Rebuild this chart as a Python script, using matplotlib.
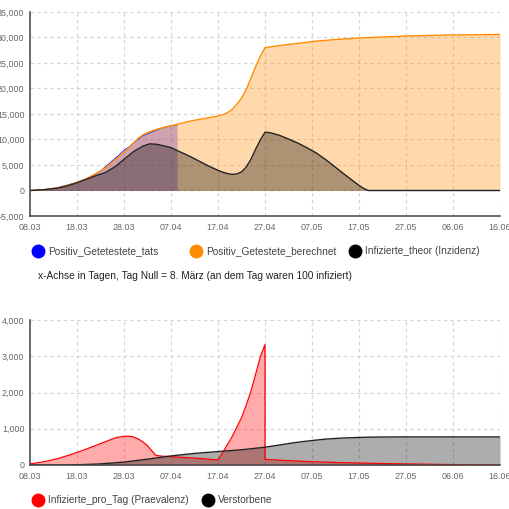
import matplotlib
matplotlib.use("Agg")
import matplotlib.pyplot as plt
from matplotlib.lines import Line2D

plt.rcParams["font.family"] = ["Liberation Sans", "DejaVu Sans"]

# Tag 0 = 08.03.
tick_tage = [0, 10, 20, 30, 40, 50, 60, 70, 80, 90, 100]
tick_labels = ["08.03", "18.03", "28.03", "07.04", "17.04", "27.04",
               "07.05", "17.05", "27.05", "06.06", "16.06"]

# oberes Diagramm
tage_tats = [0, 5, 10, 13, 15, 17, 19, 20, 21, 22, 24, 26, 28, 30, 31.3]
positiv_tats = [0, 320, 1600, 2700, 3800, 5400, 7000, 7900, 8500, 9300,
                10700, 11500, 12200, 12700, 12900]

tage_ber = [0, 3, 6, 8, 10, 12, 14, 16, 17, 18, 20, 22, 23, 24, 25, 26, 27,
            29, 31, 34, 37, 40, 41, 42, 43, 44, 45, 46, 47, 48, 49, 50, 51,
            53, 55, 58, 60, 65, 70, 75, 80, 85, 90, 95, 100]
positiv_ber = [0, 150, 550, 1000, 1600, 2300, 3300, 4400, 5100, 5900, 7400,
               9300, 10200, 10900, 11350, 11700, 12000, 12500, 12900, 13600,
               14100, 14600, 14850, 15250, 15900, 16900, 18100, 19800, 22000,
               24300, 26300, 28000, 28150, 28400, 28650, 28950, 29200, 29600,
               29900, 30100, 30300, 30400, 30500, 30550, 30600]

tage_theor = [0, 3, 6, 8, 10, 12, 14, 16, 18, 20, 22, 24, 25.5, 27, 28.5, 30,
              32, 34, 36, 38, 40, 41, 42, 43, 44, 45, 46, 47, 48, 49, 50, 51,
              53, 55, 57, 59, 61, 63, 65, 67, 69, 70, 71, 72, 100]
infizierte_theor = [0, 150, 500, 900, 1500, 2200, 2900, 3500, 4600, 6100,
                    7600, 8700, 9150, 9050, 8750, 8400, 7550, 6700, 5750, 4800,
                    3950, 3600, 3320, 3170, 3250, 3650, 4600, 6100, 8100, 9900,
                    11430, 11350, 10850, 10100, 9300, 8350, 7300, 6000, 4550,
                    3100, 1700, 1000, 400, 0, 0]

# unteres Diagramm
tage_pro_tag = [0, 3, 6, 9, 12, 15, 17, 18.5, 20, 21, 22, 23, 24, 25, 26,
                26.8, 28, 30, 35, 40, 41, 42, 43, 44, 45, 46, 47, 48, 49, 50,
                50, 55, 60, 65, 70, 75, 80, 85, 90, 95, 100]
infizierte_pro_tag = [30, 90, 180, 300, 440, 590, 690, 760, 790, 795, 775,
                      720, 640, 530, 380, 265, 245, 230, 190, 140, 340, 560,
                      780, 1040, 1300, 1650, 2030, 2500, 2980, 3320, 155, 120,
                      90, 70, 55, 40, 30, 20, 12, 8, 5]

tage_tot = [0, 5, 10, 15, 20, 25, 30, 35, 40, 45, 50, 53, 56, 58, 60, 63, 66,
            68, 70, 72, 75, 80, 100]
verstorbene = [0, 1, 5, 30, 80, 160, 250, 320, 370, 420, 490, 550, 610, 645,
               675, 715, 740, 752, 760, 767, 772, 775, 775]

ORANGE = "#ff8c00"
TICKFARBE = "#666666"
TEXTFARBE = "#444444"

fig = plt.figure(figsize=(5.09, 5.09), dpi=100)
ax1 = fig.add_axes([30 / 509, 1 - 216 / 509, 470 / 509, 204 / 509])
ax2 = fig.add_axes([30 / 509, 1 - 465 / 509, 470 / 509, 145 / 509])


def achse_stylen(ax, ymin, ymax, ystep):
    ax.set_xlim(0, 100)
    ax.set_ylim(ymin, ymax)
    ax.set_xticks(tick_tage)
    ax.set_xticklabels(tick_labels)
    ax.set_yticks(range(ymin, ymax + 1, ystep))
    ax.set_yticklabels([f"{v:,}" for v in range(ymin, ymax + 1, ystep)])
    ax.grid(True, color="#d4d4d4", linestyle=(0, (3, 3)), linewidth=0.8)
    ax.set_axisbelow(True)
    ax.tick_params(length=0, labelsize=6.4, colors=TICKFARBE)
    ax.tick_params(axis="x", pad=5)
    ax.tick_params(axis="y", pad=4)
    for s in ["top", "right"]:
        ax.spines[s].set_visible(False)
    for s in ["left", "bottom"]:
        ax.spines[s].set_color("#444444")
        ax.spines[s].set_linewidth(1.1)


# oberes Diagramm zeichnen
ax1.fill_between(tage_ber, positiv_ber, color=ORANGE, alpha=0.33, lw=0)
ax1.fill_between(tage_tats, positiv_tats, color=(80 / 255, 20 / 255, 190 / 255),
                 alpha=0.28, lw=0)
ax1.plot(tage_tats, positiv_tats, color="#3030e0", lw=0.7)
ax1.plot(tage_ber, positiv_ber, color=ORANGE, lw=1)
ax1.fill_between(tage_theor, infizierte_theor, color="black", alpha=0.32, lw=0)
ax1.plot(tage_theor, infizierte_theor, color="#222222", lw=1)
achse_stylen(ax1, -5000, 35000, 5000)

# unteres Diagramm zeichnen
ax2.fill_between(tage_pro_tag, infizierte_pro_tag, color="red", alpha=0.33, lw=0)
ax2.plot(tage_pro_tag, infizierte_pro_tag, color="red", lw=0.9)
ax2.fill_between(tage_tot, verstorbene, color="black", alpha=0.32, lw=0)
ax2.plot(tage_tot, verstorbene, color="#222222", lw=1)
achse_stylen(ax2, 0, 4000, 1000)


def legenden_eintrag(x_px, y_px, farbe, text):
    fig.add_artist(Line2D([x_px / 509], [1 - y_px / 509], marker="o",
                          markersize=9, color=farbe, transform=fig.transFigure))
    fig.text((x_px + 10) / 509, 1 - y_px / 509, text, fontsize=7.3,
             color=TEXTFARBE, va="center", ha="left")


legenden_eintrag(38, 251, "blue", "Positiv_Getetestete_tats")
legenden_eintrag(196, 251, ORANGE, "Positiv_Getestete_berechnet")
legenden_eintrag(355, 251, "black", "Infizierte_theor (Inzidenz)")
fig.text(38 / 509, 1 - 276 / 509,
         "x-Achse in Tagen, Tag Null = 8. März (an dem Tag waren 100 infiziert)",
         fontsize=7.3, color="#222222", va="center", ha="left")

legenden_eintrag(38, 500, "red", "Infizierte_pro_Tag (Praevalenz)")
legenden_eintrag(208, 500, "black", "Verstorbene")

fig.savefig("out.png", dpi=100)
